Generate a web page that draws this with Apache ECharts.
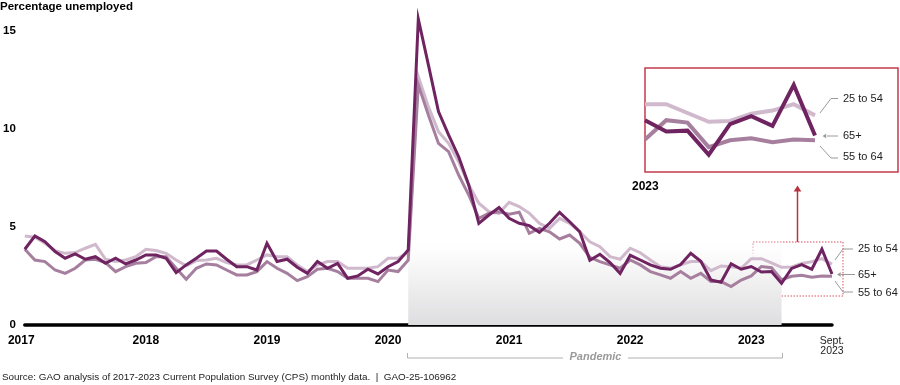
<!DOCTYPE html>
<html>
<head>
<meta charset="utf-8">
<script src="https://cdn.jsdelivr.net/npm/echarts@6/dist/echarts.min.js"></script>
<style>
html,body{margin:0;padding:0;background:#fff;}
#chart{width:900px;height:385px;}
</style>
</head>
<body>
<div id="chart"></div>
<script>
// ---- data ----
const years = [2017, 2018, 2019, 2020, 2021, 2022, 2023];
const lastMonth = 9; // September 2023
const categories = [];
years.forEach(y => {
  for (let m = 1; m <= 12; m++) {
    if (y === 2023 && m > lastMonth) break;
    categories.push(y + '-' + (m < 10 ? '0' + m : m));
  }
});

const age25to54 = [
  4.53,4.47,4.16,3.79,3.65,3.69,3.91,4.11,3.35,3.23,3.31,3.48,
  3.86,3.79,3.65,3.31,3.01,3.28,3.31,3.40,3.18,3.06,3.06,3.31,
  3.57,3.48,3.48,3.06,2.72,3.06,3.23,3.23,2.89,2.89,2.89,2.97,
  3.40,3.40,3.70,12.65,11.12,9.85,9.25,8.32,7.13,6.20,5.77,5.69,
  6.25,6.03,5.69,5.18,4.92,5.43,5.18,4.75,4.24,3.99,3.48,3.35,
  3.91,3.68,3.31,2.97,2.89,3.06,3.23,3.23,2.77,3.01,2.97,2.89,
  3.38,3.38,3.16,2.94,2.96,3.14,3.22,3.38,3.10
];
const age55to64 = [
  3.86,3.31,3.23,2.80,2.63,2.89,3.31,3.35,3.18,2.72,2.97,3.14,
  3.18,3.48,3.48,2.89,2.33,2.89,3.11,3.06,2.80,2.55,2.55,2.72,
  3.23,2.89,2.63,2.26,2.46,2.84,2.89,2.72,2.38,2.38,2.38,2.21,
  2.80,2.72,3.30,12.23,10.70,9.25,8.83,7.64,6.62,5.43,5.69,5.77,
  5.64,5.74,4.67,4.92,4.75,4.38,4.58,4.16,3.45,3.23,3.06,2.89,
  3.31,3.06,2.72,2.55,2.38,2.72,2.38,2.63,2.21,2.21,1.96,2.29,
  2.50,2.98,2.92,2.31,2.48,2.53,2.43,2.50,2.48
];
const age65plus = [
  3.86,4.53,4.24,3.74,3.40,3.62,3.35,3.48,3.14,3.40,3.11,3.31,
  3.57,3.57,3.40,2.67,3.06,3.40,3.77,3.77,3.35,2.97,2.97,2.80,
  4.16,3.23,3.35,2.94,2.63,3.23,2.89,3.14,2.38,2.50,2.84,2.60,
  2.97,3.23,3.82,15.59,13.25,10.87,9.68,8.57,7.13,5.18,5.60,5.98,
  5.43,5.18,5.06,4.72,5.18,5.74,5.26,4.75,3.30,3.60,3.18,2.63,
  3.55,3.31,3.06,2.89,2.84,3.08,3.65,3.25,2.29,2.18,3.12,2.84,
  2.98,2.70,2.72,2.12,2.88,3.08,2.84,3.86,2.60
];
const seriesNames = ['25 to 54', '55 to 64', '65+'];
const pandemicStart = '2020-03';
const pandemicEnd = '2023-04';
const insetStart = '2023-01';
const yTicks = { min: 0, max: 15, interval: 5 };

// ---- styles ----
const FONT = '"Liberation Sans", Arial, sans-serif';
const C_LIGHT = '#d0b9cd';
const C_MED = '#a67f9f';
const C_DARK = '#6f2461';
const RED = '#c23b4c';
const GRAY = '#9a9a9a';

const insetIdx = categories.indexOf(insetStart);
const insetCats = categories.slice(insetIdx);

const chart = echarts.init(document.getElementById('chart'), null, { renderer: 'canvas' });

function lineSeries(name, data, color, xi, width, z) {
  return {
    name, type: 'line', data, xAxisIndex: xi, yAxisIndex: xi,
    symbol: 'none', clip: false, z,
    lineStyle: { color, width, join: 'miter' },
    emphasis: { disabled: true }, silent: true, animation: false
  };
}

function arrowHead(x, y, dir, color, size) {
  const s = size;
  let pts;
  if (dir === 'left') pts = [[x, y], [x + s * 1.6, y - s], [x + s * 1.6, y + s]];
  else pts = [[x, y], [x - s, y + s * 1.6], [x + s, y + s * 1.6]];
  return { type: 'polygon', shape: { points: pts }, style: { fill: color }, silent: true };
}

const labelStyle = { fill: '#222', font: '11px ' + FONT, textVerticalAlign: 'middle' };

const option = {
  animation: false,
  backgroundColor: '#fff',
  grid: [
    { left: 21, right: 68, top: 30.5, bottom: 60 },
    { left: 645, right: 85, top: 70, height: 100 }
  ],
  xAxis: [
    {
      type: 'category', data: categories, boundaryGap: false, gridIndex: 0,
      axisLine: { show: true, lineStyle: { color: '#000', width: 3.5 } },
      axisTick: { show: false },
      axisLabel: {
        interval: (i, v) => v.endsWith('-01') || i === categories.length - 1,
        margin: 10,
        alignMinLabel: 'center',
        formatter: (v, i) => {
          if (i === categories.length - 1) return '{s1|Sept.}\n{s|' + v.slice(0, 4) + '}';
          if (i === 0) return '{y0|' + v.slice(0, 4) + '}';
          return '{y|' + v.slice(0, 4) + '}';
        },
        rich: {
          y: { fontFamily: FONT, fontSize: 12, fontWeight: 'bold', color: '#000' },
          y0: { fontFamily: FONT, fontSize: 12, fontWeight: 'bold', color: '#000', padding: [0, 7, 0, 0] },
          s1: { fontFamily: FONT, fontSize: 10.5, color: '#222', lineHeight: 11, align: 'center', padding: [1, 0, 0, 0] },
          s: { fontFamily: FONT, fontSize: 10.5, color: '#222', lineHeight: 11, align: 'center' }
        }
      },
      splitLine: { show: false }
    },
    {
      type: 'category', data: insetCats, boundaryGap: false, gridIndex: 1, show: false
    }
  ],
  yAxis: [
    {
      type: 'value', gridIndex: 0, min: yTicks.min, max: yTicks.max, interval: yTicks.interval,
      axisLine: { show: false }, axisTick: { show: false }, splitLine: { show: false },
      axisLabel: { fontFamily: FONT, fontSize: 11.5, fontWeight: 'bold', color: '#000', margin: 9 }
    },
    {
      type: 'value', gridIndex: 1, min: 1.74, max: 4.23, show: false, splitLine: { show: false }
    }
  ],
  series: [
    {
      type: 'line', data: age25to54, symbol: 'none', z: 0, silent: true,
      lineStyle: { width: 0, opacity: 0 },
      markArea: {
        silent: true,
        itemStyle: {
          color: {
            type: 'linear', x: 0, y: 0, x2: 0, y2: 1,
            colorStops: [
              { offset: 0, color: 'rgba(255,255,255,0)' },
              { offset: 0.25, color: 'rgba(250,250,250,1)' },
              { offset: 1, color: '#dedee0' }
            ]
          }
        },
        data: [[{ xAxis: pandemicStart, yAxis: 0 }, { xAxis: pandemicEnd, yAxis: 4.5 }]]
      }
    },
    lineSeries(seriesNames[0], age25to54, C_LIGHT, 0, 3, 2),
    lineSeries(seriesNames[1], age55to64, C_MED, 0, 3, 3),
    lineSeries(seriesNames[2], age65plus, C_DARK, 0, 3, 4),
    lineSeries(seriesNames[0], age25to54.slice(insetIdx), C_LIGHT, 1, 4, 2),
    lineSeries(seriesNames[1], age55to64.slice(insetIdx), C_MED, 1, 4, 3),
    lineSeries(seriesNames[2], age65plus.slice(insetIdx), C_DARK, 1, 4, 4)
  ],
  graphic: [
    { type: 'text', left: 0, top: 1, style: { text: 'Percentage unemployed', fill: '#000', font: 'bold 11.5px ' + FONT } },
    { type: 'text', left: 2, top: 372, style: { text: 'Source: GAO analysis of 2017-2023 Current Population Survey (CPS) monthly data.  |  GAO-25-106962', fill: '#222', font: '9.9px ' + FONT } },
    { type: 'rect', shape: { x: 645, y: 68, width: 253, height: 104 }, style: { fill: 'none', stroke: RED, lineWidth: 1.5 }, silent: true },
    { type: 'text', x: 632, y: 187, style: { text: '2023', fill: '#000', font: 'bold 12px ' + FONT, textVerticalAlign: 'middle' } },
    { type: 'rect', shape: { x: 753, y: 242, width: 90, height: 54 }, style: { fill: 'none', stroke: '#d9505f', lineWidth: 1, lineDash: [1.5, 1.5] }, silent: true },
    { type: 'line', shape: { x1: 797.5, y1: 242, x2: 797.5, y2: 191 }, style: { stroke: '#b8323f', lineWidth: 1.5 }, silent: true },
    arrowHead(797.5, 185.5, 'up', '#b8323f', 3.8),
    { type: 'text', x: 858, y: 249, style: Object.assign({ text: '25 to 54' }, labelStyle) },
    { type: 'text', x: 858, y: 275, style: Object.assign({ text: '65+' }, labelStyle) },
    { type: 'text', x: 858, y: 293, style: Object.assign({ text: '55 to 64' }, labelStyle) },
    { type: 'polyline', shape: { points: [[835, 260], [843, 249], [853, 249]] }, style: { stroke: GRAY, lineWidth: 1, fill: 'none' }, silent: true },
    { type: 'line', shape: { x1: 855, y1: 274.5, x2: 841, y2: 274.5 }, style: { stroke: GRAY, lineWidth: 1 }, silent: true },
    arrowHead(837, 274.5, 'left', GRAY, 2.3),
    { type: 'polyline', shape: { points: [[835, 281], [843, 292], [853, 292]] }, style: { stroke: GRAY, lineWidth: 1, fill: 'none' }, silent: true },
    { type: 'text', x: 843, y: 99, style: Object.assign({ text: '25 to 54' }, labelStyle) },
    { type: 'text', x: 843, y: 136, style: Object.assign({ text: '65+' }, labelStyle) },
    { type: 'text', x: 843, y: 157, style: Object.assign({ text: '55 to 64' }, labelStyle) },
    { type: 'polyline', shape: { points: [[820, 113], [831, 98.5], [838, 98.5]] }, style: { stroke: GRAY, lineWidth: 1, fill: 'none' }, silent: true },
    { type: 'line', shape: { x1: 838, y1: 136, x2: 827, y2: 136 }, style: { stroke: GRAY, lineWidth: 1 }, silent: true },
    arrowHead(822.5, 136, 'left', GRAY, 2.3),
    { type: 'polyline', shape: { points: [[820, 146], [831, 158], [838, 158]] }, style: { stroke: GRAY, lineWidth: 1, fill: 'none' }, silent: true },
    { type: 'polyline', shape: { points: [[407.5, 353], [407.5, 358], [563, 358]] }, style: { stroke: '#b0b0b0', lineWidth: 1, fill: 'none' }, silent: true },
    { type: 'polyline', shape: { points: [[628, 358], [782.5, 358], [782.5, 353]] }, style: { stroke: '#b0b0b0', lineWidth: 1, fill: 'none' }, silent: true },
    { type: 'text', x: 595.5, y: 357, style: { text: 'Pandemic', fill: '#9a9a9a', font: 'italic bold 11px ' + FONT, textAlign: 'center', textVerticalAlign: 'middle' } }
  ]
};
chart.setOption(option);
</script>
</body>
</html>
